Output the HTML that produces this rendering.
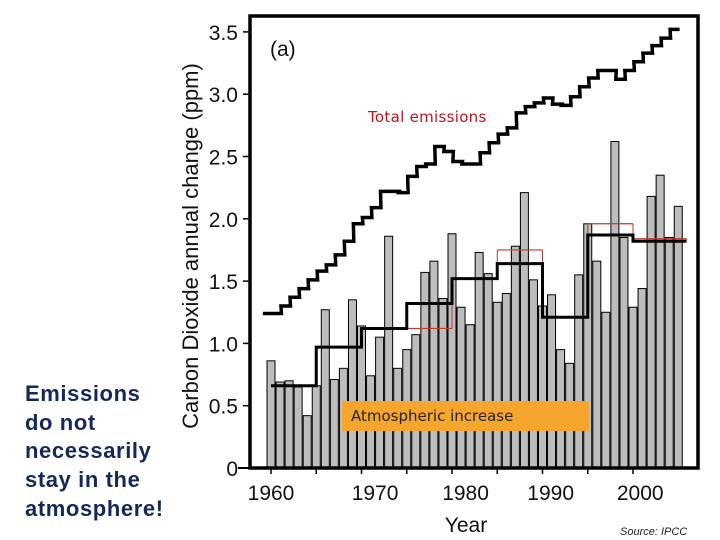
<!DOCTYPE html>
<html><head><meta charset="utf-8"><style>
body{margin:0;background:#fff;width:720px;height:540px;overflow:hidden;font-family:"Liberation Sans",sans-serif}
#side{position:absolute;left:25px;top:380px;color:#15285a;font-weight:bold;font-size:22px;line-height:28.7px;letter-spacing:0.6px}
</style></head><body>
<div id="side">Emissions<br>do not<br>necessarily<br>stay in the<br>atmosphere!</div>
<svg id="chart" width="720" height="540" style="position:absolute;left:0;top:0"></svg>
<script>
const years=[1960,1961,1962,1963,1964,1965,1966,1967,1968,1969,1970,1971,1972,1973,1974,1975,1976,1977,1978,1979,1980,1981,1982,1983,1984,1985,1986,1987,1988,1989,1990,1991,1992,1993,1994,1995,1996,1997,1998,1999,2000,2001,2002,2003,2004,2005];
const atmospheric=[0.86,0.69,0.70,0.65,0.42,0.66,1.27,0.71,0.80,1.35,1.14,0.74,1.05,1.86,0.80,0.95,1.07,1.57,1.66,1.36,1.88,1.29,1.15,1.73,1.56,1.33,1.40,1.78,2.21,1.51,1.30,1.39,0.95,0.84,1.55,1.96,1.66,1.25,2.62,1.85,1.29,1.44,2.18,2.35,1.85,2.10];
const emissions=[1.24,1.24,1.30,1.37,1.44,1.51,1.58,1.63,1.71,1.82,1.96,2.01,2.09,2.22,2.22,2.21,2.34,2.42,2.44,2.58,2.54,2.46,2.44,2.44,2.53,2.61,2.68,2.73,2.85,2.90,2.93,2.97,2.92,2.91,2.98,3.06,3.13,3.19,3.19,3.12,3.19,3.26,3.33,3.39,3.45,3.52];
const periodStart=[1960,1965,1970,1975,1980,1985,1990,1995,2000];
const periodEnd=[1965,1970,1975,1980,1985,1990,1995,2000,2005.9];
const periodMean=[0.66,0.97,1.12,1.32,1.52,1.64,1.21,1.87,1.82];
const altStart=[1975,1985,1995,2000];
const altEnd=[1980,1990,2000,2005.9];
const altMean=[1.12,1.75,1.96,1.84];
const yTicks=[0,0.5,1.0,1.5,2.0,2.5,3.0,3.5];
const yTickLabels=["0","0.5","1.0","1.5","2.0","2.5","3.0","3.5"];
const xTicks=[1960,1965,1970,1975,1980,1985,1990,1995,2000];
const xLabels=["1960","1970","1980","1990","2000"];
const xLabelPos=[1960,1971.5,1981.5,1990.9,2000.8];

const X=v=>271+(v-1960)*9.05;
const Y=v=>468-v*124.6;
const svg=document.getElementById('chart');
const NS='http://www.w3.org/2000/svg';
function mk(t,a,p){const e=document.createElementNS(NS,t);for(const k in a)e.setAttribute(k,a[k]);(p||svg).appendChild(e);return e;}

years.forEach((yr,i)=>{
  const b=mk('rect',{x:X(yr)-4,y:Y(atmospheric[i]),width:8,height:Y(0)-Y(atmospheric[i]),fill:'#bdbdbd',stroke:'#000','stroke-width':1});
  
  
});
const ob=mk('rect',{x:342,y:401,width:247,height:30,fill:'#f6a52d'});


const ot=mk('text',{x:351,y:421,'font-size':15,fill:'#222','font-family':'"DejaVu Sans",sans-serif'});
ot.textContent='Atmospheric increase';



let rd='';
altStart.forEach((s,i)=>{rd+=`M${X(s)},${Y(altMean[i])}H${X(altEnd[i])}`;});
const rp=mk('path',{d:rd,fill:'none',stroke:'#c0392b','stroke-width':1.2});


let rv='';
altStart.forEach((s,i)=>{const pm=periodMean[periodStart.indexOf(s)];rv+=`M${X(s)},${Y(altMean[i])}V${Y(pm)}M${X(altEnd[i])},${Y(altMean[i])}V${Y(pm)}`;});
const rvp=mk('path',{d:rv,fill:'none',stroke:'#c0392b','stroke-width':1});



let pd='';
periodStart.forEach((s,i)=>{pd+=(i?'L':'M')+X(s)+','+Y(periodMean[i])+'H'+X(periodEnd[i]);});
const pp=mk('path',{d:pd,fill:'none',stroke:'#000','stroke-width':3});



let ed='';
years.forEach((yr,i)=>{ed+=(i?'L':'M')+X(yr-0.9)+','+Y(emissions[i])+'H'+X(yr+0.15);});
const ep=mk('path',{d:ed,fill:'none',stroke:'#000','stroke-width':3.5});


const et=mk('text',{x:368,y:122,'font-size':15,fill:'#c0141c','font-family':'"DejaVu Sans",sans-serif','letter-spacing':'0.3'});
et.textContent='Total emissions';



const fr=mk('rect',{x:250,y:16,width:448,height:452,fill:'none',stroke:'#000','stroke-width':3.5});


mk('line',{x1:238,y1:468,x2:250,y2:468,stroke:'#000','stroke-width':2});
yTicks.forEach((v,i)=>{
  mk('line',{x1:243,y1:Y(v),x2:250,y2:Y(v),stroke:'#000','stroke-width':1.5});
  const t=mk('text',{x:238,y:Y(v)+8,'font-size':21,'text-anchor':'end',fill:'#111'});
  t.textContent=yTickLabels[i];
  
  
});
xTicks.forEach(v=>{mk('line',{x1:X(v),y1:468,x2:X(v),y2:474,stroke:'#000','stroke-width':1.5});});
xLabels.forEach((l,i)=>{
  const t=mk('text',{x:X(xLabelPos[i]),y:500,'font-size':21,'text-anchor':'middle',fill:'#111'});
  t.textContent=l;
  
  
});
const xt=mk('text',{x:466,y:532,'font-size':21,'text-anchor':'middle',fill:'#111'});
xt.textContent='Year';


const yt=mk('text',{x:0,y:0,'font-size':22,'text-anchor':'middle',fill:'#111',transform:'translate(198,246) rotate(-90)'});
yt.textContent='Carbon Dioxide annual change (ppm)';


const pa=mk('text',{x:270,y:56,'font-size':21,fill:'#111'});
pa.textContent='(a)';


const src=mk('text',{x:620,y:535,'font-size':11,'font-style':'italic',fill:'#222'});
src.textContent='Source: IPCC';


</script>
</body></html>
